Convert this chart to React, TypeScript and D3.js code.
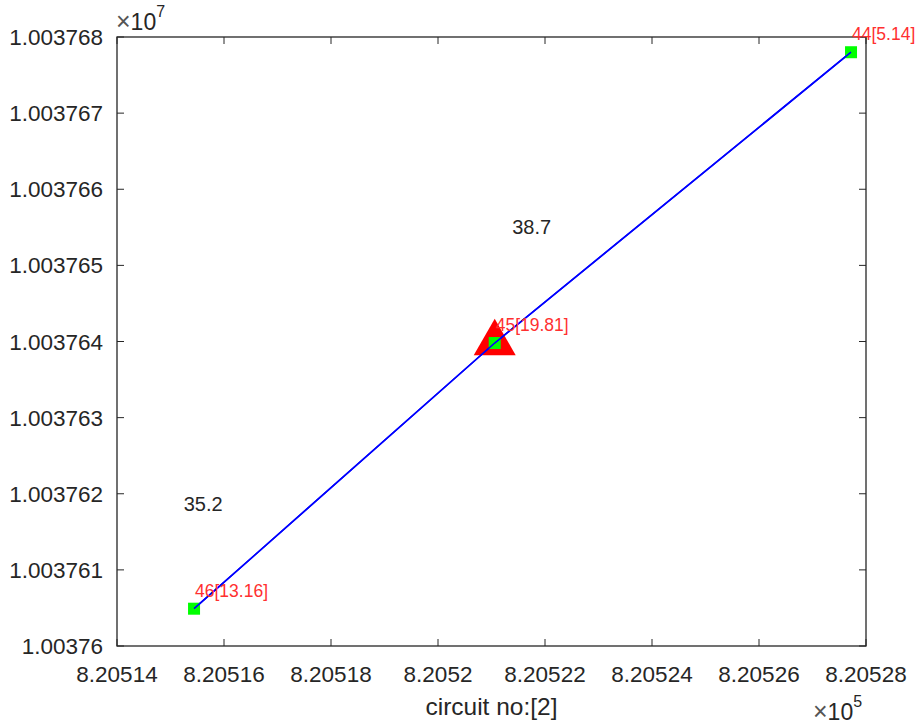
import * as d3 from 'd3'

// x values are in units of 1e5, y values in units of 1e7 on the axes
const xTicks = [820514, 820516, 820518, 820520, 820522, 820524, 820526, 820528]
const xTickLabels = ['8.20514', '8.20516', '8.20518', '8.2052', '8.20522', '8.20524', '8.20526', '8.20528']
const yTicks = [10037600, 10037610, 10037620, 10037630, 10037640, 10037650, 10037660, 10037670, 10037680]
const yTickLabels = ['1.00376', '1.003761', '1.003762', '1.003763', '1.003764', '1.003765', '1.003766', '1.003767', '1.003768']

const nodeIds = ['44', '45', '46']
const nodeValues = ['5.14', '19.81', '13.16']
const nodeX = [820527.72, 820521.06, 820515.44]
const nodeY = [10037678.0, 10037639.8, 10037604.9]

const segLabels = ['38.7', '35.2']
const segX = [820521.75, 820515.61]
const segY = [10037655.0, 10037618.6]

const highlighted = '45'

const width = 921
const height = 726
const margin = { top: 37, right: 55, bottom: 80, left: 117 }
const font = 'Liberation Sans, Arial, sans-serif'
const textColor = '#262626'
const tickFont = 22.5

function App() {
  const innerWidth = width - margin.left - margin.right
  const innerHeight = height - margin.top - margin.bottom

  const xScale = d3.scaleLinear().domain([820514, 820528]).range([0, innerWidth])
  const yScale = d3.scaleLinear().domain([10037600, 10037680]).range([innerHeight, 0])

  const path = d3.line<number>()
    .x(i => xScale(nodeX[i]))
    .y(i => yScale(nodeY[i]))(nodeIds.map((_, i) => i))

  const tri = d3.symbol().type(d3.symbolTriangle).size(764)()
  const hi = nodeIds.indexOf(highlighted)
  const tickLen = 7

  return (
    <svg width={width} height={height} style={{ position: 'absolute', left: 0, top: 0, background: '#fff' }}
      fontFamily={font}>
      <rect width={width} height={height} fill="#fff" />
      <g transform={`translate(${margin.left},${margin.top})`}>
        {xTicks.map((t, i) => (
          <g key={t} transform={`translate(${xScale(t)},0)`}>
            <line y1={0} y2={tickLen} stroke={textColor} />
            <line y1={innerHeight} y2={innerHeight - tickLen} stroke={textColor} />
            <text y={innerHeight + 36} textAnchor="middle" fontSize={tickFont} fill={textColor}>{xTickLabels[i]}</text>
          </g>
        ))}
        {yTicks.map((t, i) => (
          <g key={t} transform={`translate(0,${yScale(t)})`}>
            <line x1={0} x2={tickLen} stroke={textColor} />
            <line x1={innerWidth} x2={innerWidth - tickLen} stroke={textColor} />
            <text x={-14} dy="0.36em" textAnchor="end" fontSize={tickFont} fill={textColor}>{yTickLabels[i]}</text>
          </g>
        ))}
        <rect width={innerWidth} height={innerHeight} fill="none" stroke={textColor} strokeWidth={1.3} />

        <path d={tri ?? ''} transform={`translate(${xScale(nodeX[hi])},${yScale(nodeY[hi])})`} fill="#ff0000" />
        <path d={path ?? ''} fill="none" stroke="#0000ff" strokeWidth={1.6} />
        {nodeIds.map((id, i) => (
          <rect key={id} x={xScale(nodeX[i]) - 6} y={yScale(nodeY[i]) - 6} width={12} height={12} fill="#00ff00" />
        ))}
        <path d={path ?? ''} fill="none" stroke="#0000ff" strokeWidth={1.6} />
        {nodeIds.map((id, i) => (
          <text key={id} x={xScale(nodeX[i]) + 1} y={yScale(nodeY[i]) - 12} fontSize={17.5} fill="#ff3030">
            {`${id}[${nodeValues[i]}]`}
          </text>
        ))}
        {segLabels.map((s, i) => (
          <text key={s} x={xScale(segX[i])} y={yScale(segY[i])} textAnchor="middle" dy="0.35em" fontSize={20} fill={textColor}>{s}</text>
        ))}
      </g>
      <text x={margin.left + innerWidth / 2} y={715} textAnchor="middle" fontSize={24.5} fill={textColor}>circuit no:[2]</text>
      <text x={116} y={30} fontSize={23} fill={textColor}>
        <tspan fontSize={25} fill="#555">×</tspan>10<tspan dy={-13} fontSize={16}>7</tspan>
      </text>
      <text x={813} y={720} fontSize={23} fill={textColor}>
        <tspan fontSize={25} fill="#555">×</tspan>10<tspan dy={-13} fontSize={16}>5</tspan>
      </text>
    </svg>
  )
}

export default App
